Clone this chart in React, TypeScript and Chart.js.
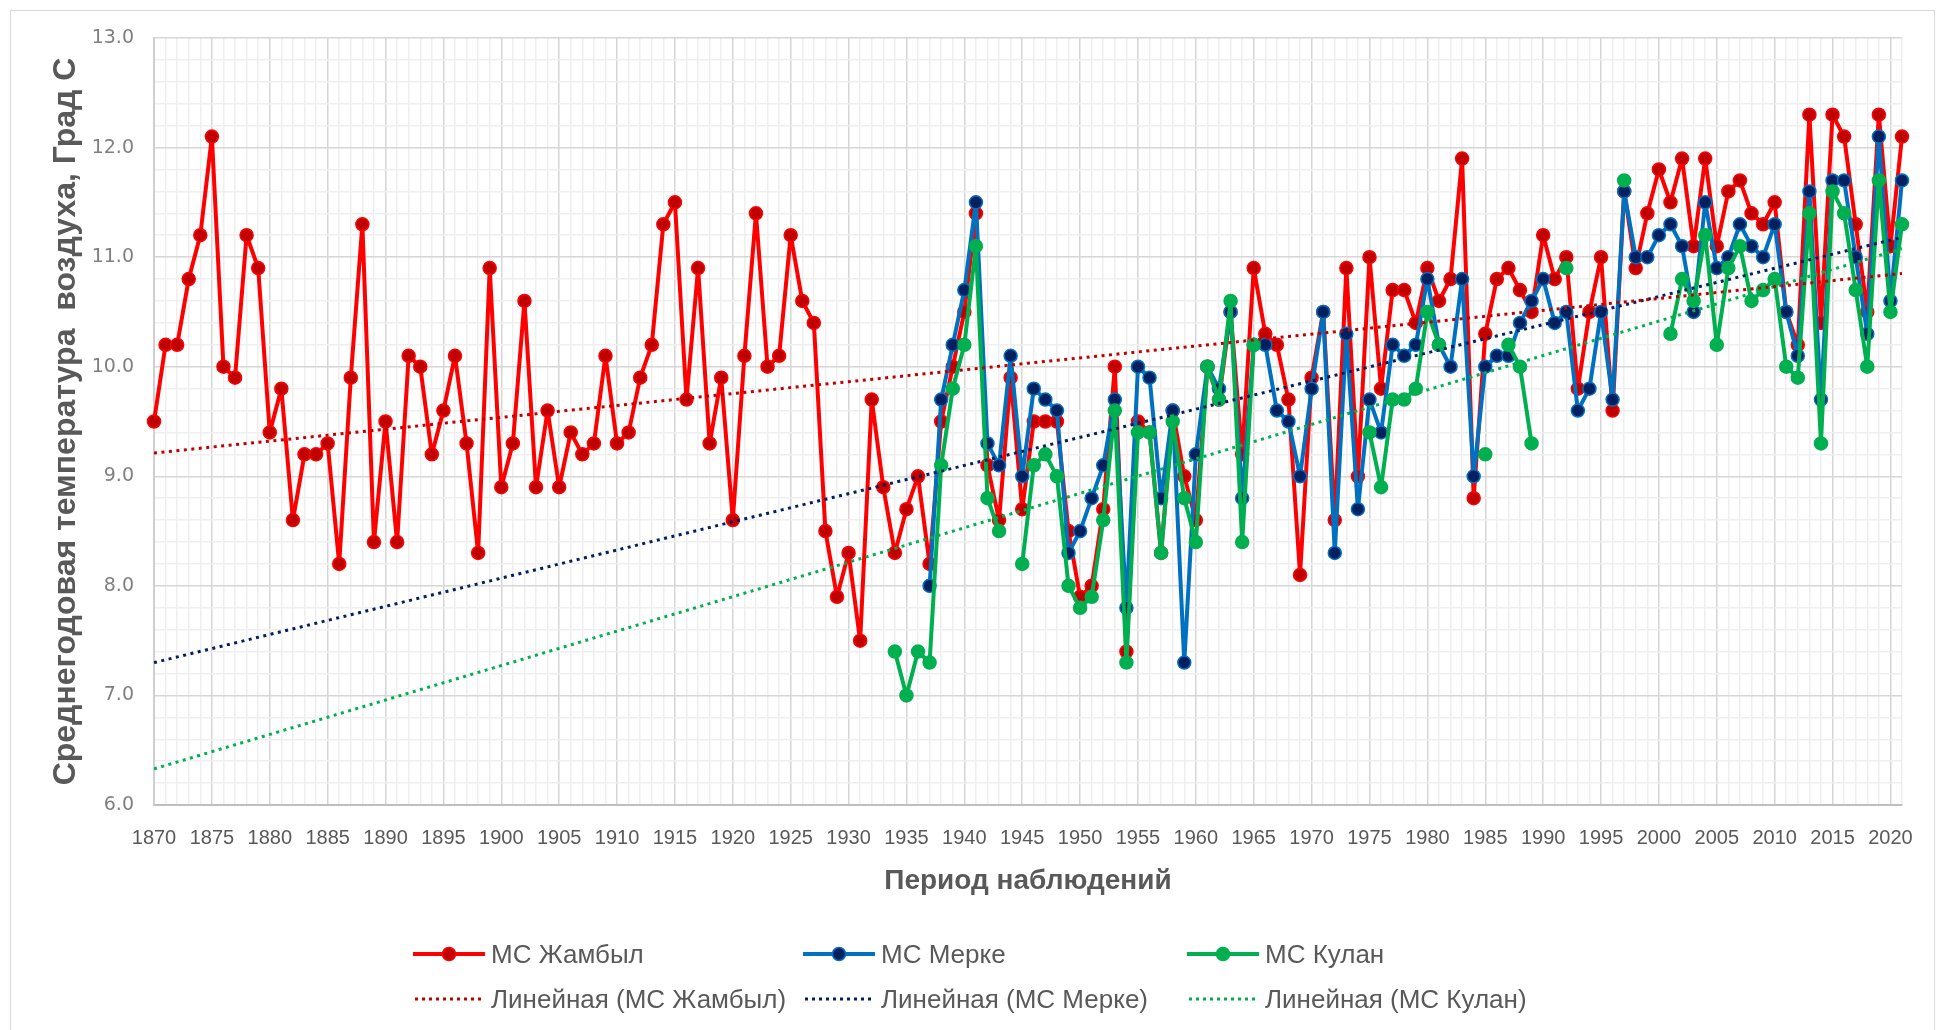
import { useEffect, useRef } from 'react';
import { Chart, registerables } from 'chart.js';

Chart.register(...registerables);

// Observation period
const FIRST_YEAR = 1870;
const LAST_YEAR = 2021;

// Mean annual air temperature, °C — МС Жамбыл, 1870–2021
const zhambylTemps: (number | null)[] = [
  9.5, 10.2, 10.2, 10.8, 11.2, 12.1, 10.0, 9.9, 11.2, 10.9, // 1870–1879
  9.4, 9.8, 8.6, 9.2, 9.2, 9.3, 8.2, 9.9, 11.3, 8.4, // 1880–1889
  9.5, 8.4, 10.1, 10.0, 9.2, 9.6, 10.1, 9.3, 8.3, 10.9, // 1890–1899
  8.9, 9.3, 10.6, 8.9, 9.6, 8.9, 9.4, 9.2, 9.3, 10.1, // 1900–1909
  9.3, 9.4, 9.9, 10.2, 11.3, 11.5, 9.7, 10.9, 9.3, 9.9, // 1910–1919
  8.6, 10.1, 11.4, 10.0, 10.1, 11.2, 10.6, 10.4, 8.5, 7.9, // 1920–1929
  8.3, 7.5, 9.7, 8.9, 8.3, 8.7, 9.0, 8.2, 9.5, 10.0, // 1930–1939
  10.5, 11.4, 9.1, 8.6, 9.9, 8.7, 9.5, 9.5, 9.5, 8.5, // 1940–1949
  7.9, 8.0, 8.7, 10.0, 7.4, 9.5, 9.4, 8.3, 9.6, 9.0, // 1950–1959
  8.6, 10.0, 9.7, 10.5, 9.2, 10.9, 10.3, 10.2, 9.7, 8.1, // 1960–1969
  9.9, 10.5, 8.6, 10.9, 9.0, 11.0, 9.8, 10.7, 10.7, 10.4, // 1970–1979
  10.9, 10.6, 10.8, 11.9, 8.8, 10.3, 10.8, 10.9, 10.7, 10.5, // 1980–1989
  11.2, 10.8, 11.0, 9.8, 10.5, 11.0, 9.6, 11.6, 10.9, 11.4, // 1990–1999
  11.8, 11.5, 11.9, 11.1, 11.9, 11.1, 11.6, 11.7, 11.4, 11.3, // 2000–2009
  11.5, 10.5, 10.2, 12.3, 10.4, 12.3, 12.1, 11.3, 10.5, 12.3, // 2010–2019
  11.1, 12.1, // 2020–2021
];

// МС Мерке, 1937–2021
const MERKE_START = 1937;
const merkeTemps: (number | null)[] = [
  8.0, 9.7, 10.2, // 1937–1939
  10.7, 11.5, 9.3, 9.1, 10.1, 9.0, 9.8, 9.7, 9.6, 8.3, // 1940–1949
  8.5, 8.8, 9.1, 9.7, 7.8, 10.0, 9.9, 8.8, 9.6, 7.3, // 1950–1959
  9.2, 10.0, 9.8, 10.5, 8.8, 10.2, 10.2, 9.6, 9.5, 9.0, // 1960–1969
  9.8, 10.5, 8.3, 10.3, 8.7, 9.7, 9.4, 10.2, 10.1, 10.2, // 1970–1979
  10.8, 10.2, 10.0, 10.8, 9.0, 10.0, 10.1, 10.1, 10.4, 10.6, // 1980–1989
  10.8, 10.4, 10.5, 9.6, 9.8, 10.5, 9.7, 11.6, 11.0, 11.0, // 1990–1999
  11.2, 11.3, 11.1, 10.5, 11.5, 10.9, 11.0, 11.3, 11.1, 11.0, // 2000–2009
  11.3, 10.5, 10.1, 11.6, 9.7, 11.7, 11.7, 11.0, 10.3, 12.1, // 2010–2019
  10.6, 11.7, // 2020–2021
];

// МС Кулан, 1934–2021 (null = no observations)
const KULAN_START = 1934;
const kulanTemps: (number | null)[] = [
  7.4, 7.0, 7.4, 7.3, 9.1, 9.8, // 1934–1939
  10.2, 11.1, 8.8, 8.5, null, 8.2, 9.1, 9.2, 9.0, 8.0, // 1940–1949
  7.8, 7.9, 8.6, 9.6, 7.3, 9.4, 9.4, 8.3, 9.5, 8.8, // 1950–1959
  8.4, 10.0, 9.7, 10.6, 8.4, 10.2, null, null, null, null, // 1960–1969
  null, null, null, null, null, 9.4, 8.9, 9.7, 9.7, 9.8, // 1970–1979
  10.5, 10.2, null, null, null, 9.2, null, 10.2, 10.0, 9.3, // 1980–1989
  null, null, 10.9, null, null, null, null, 11.7, null, null, // 1990–1999
  null, 10.3, 10.8, 10.6, 11.2, 10.2, 10.9, 11.1, 10.6, 10.7, // 2000–2009
  10.8, 10.0, 9.9, 11.4, 9.3, 11.6, 11.4, 10.7, 10.0, 11.7, // 2010–2019
  10.5, 11.3, // 2020–2021
];

// Value axis
const Y_MIN = 6;
const Y_MAX = 13;

type Pt = { x: number; y: number | null };

function toPoints(start: number, values: (number | null)[]): Pt[] {
  return values.map((v, i) => ({ x: start + i, y: v }));
}

// Least-squares linear trend over the observed years, drawn across the whole period
function linearTrend(points: Pt[]): Pt[] {
  const pts = points.filter((p) => p.y !== null) as { x: number; y: number }[];
  const n = pts.length;
  const mx = pts.reduce((s, p) => s + p.x, 0) / n;
  const my = pts.reduce((s, p) => s + p.y, 0) / n;
  let sxy = 0;
  let sxx = 0;
  for (const p of pts) {
    sxy += (p.x - mx) * (p.y - my);
    sxx += (p.x - mx) * (p.x - mx);
  }
  const slope = sxy / sxx;
  const at = (x: number) => my + slope * (x - mx);
  return [
    { x: FIRST_YEAR, y: at(FIRST_YEAR) },
    { x: LAST_YEAR, y: at(LAST_YEAR) },
  ];
}

const SANS = '"Liberation Sans", Arial, sans-serif';
const TEXT_GREY = '#595959';

const legendRows = [
  [
    { label: 'МС Жамбыл', line: '#ff0000', fill: '#c00000', dotted: false },
    { label: 'МС Мерке', line: '#0070c0', fill: '#002060', dotted: false },
    { label: 'МС Кулан', line: '#00b050', fill: '#00b050', dotted: false },
  ],
  [
    { label: 'Линейная (МС Жамбыл)', line: '#c00000', fill: '', dotted: true },
    { label: 'Линейная (МС Мерке)', line: '#002060', fill: '', dotted: true },
    { label: 'Линейная (МС Кулан)', line: '#00b050', fill: '', dotted: true },
  ],
];
const legendColumns = [413, 803, 1187];
const legendRowY = [954, 999];

function LegendSample({ line, fill, dotted }: { line: string; fill: string; dotted: boolean }) {
  return (
    <svg width={72} height={20} style={{ display: 'block' }}>
      {dotted ? (
        <line x1={2} y1={10} x2={70} y2={10} stroke={line} strokeWidth={3} strokeDasharray="3 4" />
      ) : (
        <>
          <line x1={0} y1={10} x2={72} y2={10} stroke={line} strokeWidth={4} />
          <circle cx={36} cy={10} r={6.5} fill={fill} stroke={line} strokeWidth={1.5} />
        </>
      )}
    </svg>
  );
}

export default function App() {
  const canvasRef = useRef<HTMLCanvasElement | null>(null);

  useEffect(() => {
    if (!canvasRef.current) return;

    const zhambyl = toPoints(FIRST_YEAR, zhambylTemps);
    const merke = toPoints(MERKE_START, merkeTemps);
    const kulan = toPoints(KULAN_START, kulanTemps);

    const series = (
      label: string,
      data: Pt[],
      line: string,
      fill: string,
      order: number
    ) => ({
      label,
      data,
      borderColor: line,
      backgroundColor: fill,
      borderWidth: 4,
      borderJoinStyle: 'round',
      borderCapStyle: 'round',
      pointRadius: 6.5,
      pointBorderWidth: 1.5,
      pointBackgroundColor: fill,
      pointBorderColor: line,
      spanGaps: false,
      tension: 0,
      clip: false,
      order,
    });

    const trend = (label: string, data: Pt[], color: string) => ({
      label,
      data,
      borderColor: color,
      backgroundColor: color,
      borderWidth: 3,
      borderDash: [3, 4.5],
      pointRadius: 0,
      tension: 0,
      order: 0,
    });

    const isWhole = (v: number) => Math.abs(v - Math.round(v)) < 1e-6;

    const chart = new Chart(canvasRef.current, {
      type: 'line',
      data: {
        datasets: [
          series('МС Жамбыл', zhambyl, '#ff0000', '#c00000', 3),
          series('МС Мерке', merke, '#0070c0', '#002060', 2),
          series('МС Кулан', kulan, '#00b050', '#00b050', 1),
          trend('Линейная (МС Жамбыл)', linearTrend(zhambyl), '#c00000'),
          trend('Линейная (МС Мерке)', linearTrend(merke), '#002060'),
          trend('Линейная (МС Кулан)', linearTrend(kulan), '#00b050'),
        ] as any,
      },
      options: {
        animation: false,
        responsive: true,
        maintainAspectRatio: false,
        layout: { padding: { top: 38, right: 41, left: 0, bottom: 0 } },
        plugins: {
          legend: { display: false },
          tooltip: { enabled: false },
        },
        scales: {
          x: {
            type: 'linear',
            min: FIRST_YEAR,
            max: LAST_YEAR,
            ticks: {
              stepSize: 1,
              autoSkip: false,
              maxRotation: 0,
              minRotation: 0,
              padding: 21,
              color: TEXT_GREY,
              font: { family: SANS, size: 20 },
              callback: (v: any) => (Number(v) % 5 === 0 ? String(v) : ''),
            },
            grid: {
              drawTicks: false,
              color: (ctx: any) =>
                ctx.tick && ctx.tick.value % 5 === 0 ? '#d6d6d6' : '#efefef',
              lineWidth: 1.5,
            },
            border: { color: '#bfbfbf', width: 2 },
            title: {
              display: true,
              text: 'Период наблюдений',
              color: TEXT_GREY,
              font: { family: SANS, size: 28, weight: 'bold' },
              padding: { top: 0, bottom: 132 },
            },
            afterFit: (scale: any) => {
              scale.height = 225;
            },
          },
          y: {
            min: Y_MIN,
            max: Y_MAX,
            ticks: {
              stepSize: 0.2,
              autoSkip: false,
              padding: 20,
              color: '#7f7f7f',
              font: { family: '"DejaVu Sans", sans-serif', size: 19 },
              callback: (v: any) => (isWhole(Number(v)) ? Number(v).toFixed(1) : ''),
            },
            grid: {
              drawTicks: false,
              color: (ctx: any) =>
                ctx.tick && isWhole(ctx.tick.value) ? '#d6d6d6' : '#efefef',
              lineWidth: 1.5,
            },
            border: { color: '#cfcfcf', width: 2 },
            title: {
              display: true,
              text: 'Среднегодовая температура  воздуха, Град С',
              color: TEXT_GREY,
              font: { family: SANS, size: 32, weight: 'bold' },
              padding: { top: 47, bottom: 0 },
            },
            afterFit: (scale: any) => {
              scale.width = 154;
            },
          },
        },
      } as any,
    });

    return () => chart.destroy();
  }, []);

  return (
    <div
      style={{
        position: 'fixed',
        left: 0,
        top: 0,
        width: 1943,
        height: 1030,
        background: '#ffffff',
        overflow: 'hidden',
      }}
    >
      <div
        style={{
          position: 'absolute',
          left: 10,
          top: 10,
          width: 1925,
          height: 1040,
          border: '1.5px solid #d9d9d9',
          boxSizing: 'border-box',
        }}
      />
      <div style={{ position: 'absolute', left: 0, top: 0, width: 1943, height: 1030 }}>
        <canvas ref={canvasRef} />
      </div>
      {legendRows.map((row, r) =>
        row.map((item, c) => (
          <div
            key={`${r}-${c}`}
            style={{
              position: 'absolute',
              left: legendColumns[c],
              top: legendRowY[r] - 16,
              height: 32,
              display: 'flex',
              alignItems: 'center',
              gap: 6,
              fontFamily: SANS,
              fontSize: 26,
              color: TEXT_GREY,
              whiteSpace: 'nowrap',
            }}
          >
            <LegendSample line={item.line} fill={item.fill} dotted={item.dotted} />
            <span>{item.label}</span>
          </div>
        ))
      )}
    </div>
  );
}
